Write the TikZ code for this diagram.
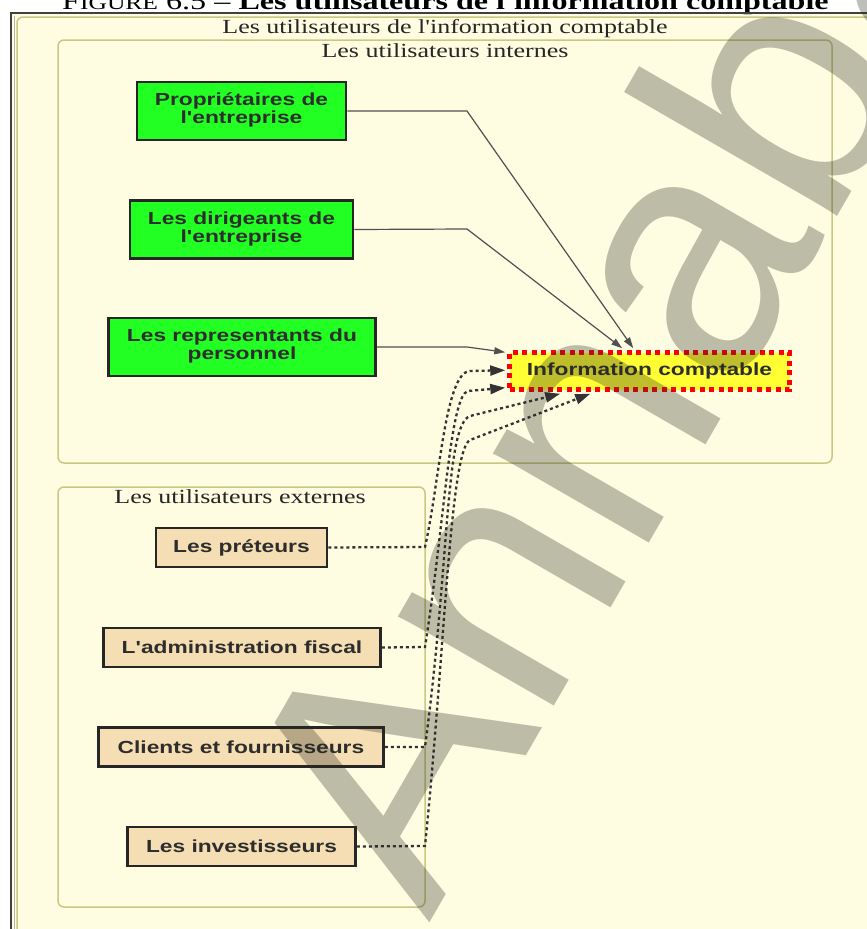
\documentclass[tikz,border=0pt]{standalone}
\usepackage{fontspec}
\usepackage{graphicx}
\setmainfont{Liberation Serif}[Ligatures=TeXOff]
\newfontfamily\lsans{Liberation Sans}[Ligatures=TeXOff]
\usetikzlibrary{arrows.meta}
\definecolor{bgy}{RGB}{254,253,226}
\definecolor{clb}{RGB}{200,200,130}
\definecolor{gbox}{RGB}{34,255,34}
\definecolor{tbox}{RGB}{245,222,179}
\definecolor{ybox}{RGB}{255,255,51}
\definecolor{txt}{RGB}{45,45,45}
\definecolor{edg}{RGB}{80,80,80}
\definecolor{wmk}{RGB}{40,40,30}
\newcommand\wx[1]{\scalebox{1.3}[1]{#1}}
\newcommand\tl[2]{\wx{\begin{tabular}{@{}c@{}}#1\\#2\end{tabular}}}
\begin{document}
\begin{tikzpicture}[x=1pt,y=-1pt,
  box/.style={draw=black!85, line width=2.7pt, inner sep=0pt, text=txt, font=\lsans\bfseries\fontsize{17.5}{17}\selectfont},
  gbx/.style={box, fill=gbox, minimum height=58pt},
  tbx/.style={box, fill=tbox, minimum height=39pt},
  clus/.style={draw=clb, line width=1.5pt, rounded corners=6pt},
  clab/.style={text=black!85, font=\fontsize{20}{20}\selectfont, anchor=base, inner sep=0pt},
  sol/.style={draw=edg, line width=1.2pt, -{Triangle[length=11pt,width=7pt]}},
  dotl/.style={draw=black!80, line width=2.3pt, dash pattern=on 3pt off 3pt, -{Triangle[length=15pt,width=10pt]}},
]
\useasboundingbox (0,0) rectangle (867,929);
\clip (0,0) rectangle (867,929);
\fill[white] (0,0) rectangle (867,929);
\fill[bgy] (10,13) rectangle (867,929);
\node[anchor=base west, inner sep=0pt, text=black, font=\fontsize{24.5}{24.5}\selectfont] (title) at (62,9.5)
  {\scalebox{1.31}[1]{F{\fontsize{19.5}{19.5}\selectfont IGURE} 6.5 – \textbf{Les utilisateurs de l'information comptable}}};
\draw[black!75, line width=2pt] (11,929) -- (11,13) -- (867,13);
\draw[black!30, line width=1pt] (14,929) -- (14,16);
\draw[clus] (17,17) rectangle (900,960);
\node[clab] (lout) at (445,33) {\wx{Les utilisateurs de l'information comptable}};
\draw[clus] (58,40) rectangle (832,463);
\node[clab] (lint) at (445,57) {\wx{Les utilisateurs internes}};
\draw[clus] (58,487) rectangle (425,907);
\node[clab] (lext) at (240,503) {\wx{Les utilisateurs externes}};

\node[gbx, minimum width=209pt] (prop) at (241.5,111) {\tl{Propriétaires de}{l'entreprise}};
\node[gbx, minimum width=223pt] (dir) at (241.5,229.5) {\tl{Les dirigeants de}{l'entreprise}};
\node[gbx, minimum width=267pt] (rep) at (242,347) {\tl{Les representants du}{personnel}};

\node[tbx, minimum width=171pt] (pret) at (241.5,547.5) {\wx{Les préteurs}};
\node[tbx, minimum width=277pt] (adm) at (242,647.5) {\wx{L'administration fiscal}};
\node[tbx, minimum width=285pt] (cli) at (241,747) {\wx{Clients et fournisseurs}};
\node[tbx, minimum width=228pt] (inv) at (241.5,846.5) {\wx{Les investisseurs}};

\node[draw=red, line width=4.5pt, dash pattern=on 5pt off 4.5pt, fill=ybox, minimum width=280pt, minimum height=37pt, inner sep=0pt, text=txt, font=\lsans\bfseries\fontsize{17.5}{17}\selectfont] (info) at (649.5,371) {\wx{Information comptable}};

\draw[sol] (prop.east) -- (467,111) -- ([xshift=126pt,yshift=2pt]info.north west);
\draw[sol] (dir.east) -- (467,229) -- ([xshift=115pt,yshift=2pt]info.north west);
\draw[sol] (rep.east) -- (467,347) -- ([xshift=-2pt,yshift=-2pt]info.north west);

\draw[dotl] (pret.east) -- (425,547) .. controls (440,480) and (445,372) .. (470,371) -- ([xshift=-2pt,yshift=-20pt]info.north west);
\draw[dotl] (adm.east) -- (425,647) .. controls (445,520) and (450,395) .. (468,391) -- ([xshift=-2pt,yshift=4pt]info.south west);
\draw[dotl] (cli.east) -- (425,747) .. controls (450,560) and (445,425) .. (470,416) -- ([xshift=53pt,yshift=-2pt]info.south west);
\draw[dotl] (inv.east) -- (425,846) .. controls (445,650) and (450,450) .. (470,440) -- ([xshift=83pt,yshift=-2pt]info.south west);

\node[rotate=60, text=wmk, opacity=0.3, font=\lsans\fontsize{340}{340}\selectfont, inner sep=0pt] (wm) at (617,355) {Annaba};
\end{tikzpicture}
\end{document}
